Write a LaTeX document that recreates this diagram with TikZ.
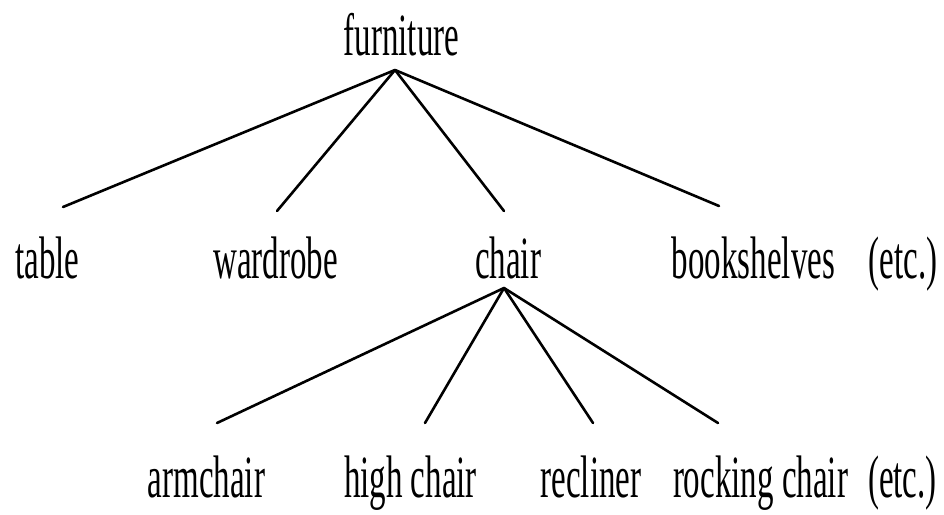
\documentclass[tikz,border=0pt]{standalone}
\usepackage{fontspec}
\setmainfont{Liberation Serif}
\usepackage{graphicx}
\tikzset{
  lbl/.style={anchor=base, inner sep=0pt, font=\fontsize{60}{72}\selectfont},
  edge/.style={line width=2.6pt, line cap=round}
}
\newcommand{\sq}[1]{\scalebox{0.55}[1]{#1}}
\begin{document}
\begin{tikzpicture}[x=1pt,y=-1pt]
\useasboundingbox (0,0) rectangle (944,514);
% nodes
\node[lbl] (furniture) at (401.5,55) {\sq{furniture}};
\node[lbl] (table) at (47.5,278) {\sq{table}};
\node[lbl] (wardrobe) at (275.5,278) {\sq{wardrobe}};
\node[lbl] (chair) at (508,278) {\sq{chair}};
\node[lbl] (bookshelves) at (753.5,278) {\sq{bookshelves}};
\node[lbl] (etc1) at (903,278) {\sq{(etc.)}};
\node[lbl] (armchair) at (206.5,497) {\sq{armchair}};
\node[lbl] (highchair) at (410.5,497) {\sq{high chair}};
\node[lbl] (recliner) at (591,497) {\sq{recliner}};
\node[lbl] (rocking) at (760.5,497) {\sq{rocking chair}};
\node[lbl] (etc2) at (902.5,497) {\sq{(etc.)}};
% connector ends
\coordinate (furniture-out) at (395,70);
\coordinate (table-in) at (63,207);
\coordinate (wardrobe-in) at (277,211);
\coordinate (chair-in) at (504,211);
\coordinate (bookshelves-in) at (719,206);
\coordinate (chair-out) at (504,288);
\coordinate (armchair-in) at (217,423);
\coordinate (highchair-in) at (425,423);
\coordinate (recliner-in) at (593,423);
\coordinate (rocking-in) at (718,423);
% connectors
\draw[edge] (furniture-out) -- (table-in);
\draw[edge] (furniture-out) -- (wardrobe-in);
\draw[edge] (furniture-out) -- (chair-in);
\draw[edge] (furniture-out) -- (bookshelves-in);
\draw[edge] (chair-out) -- (armchair-in);
\draw[edge] (chair-out) -- (highchair-in);
\draw[edge] (chair-out) -- (recliner-in);
\draw[edge] (chair-out) -- (rocking-in);
\end{tikzpicture}
\end{document}
